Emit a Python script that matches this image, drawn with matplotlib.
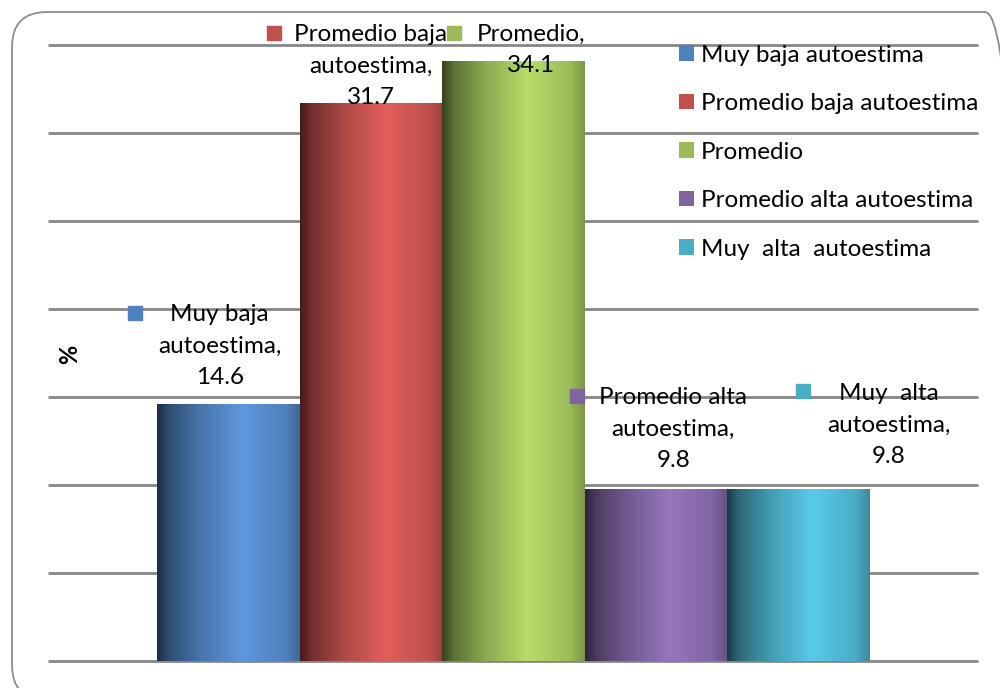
import matplotlib
matplotlib.use("Agg")
import matplotlib.pyplot as plt
import numpy as np
from matplotlib.colors import to_rgb
from matplotlib.patches import FancyBboxPatch, Patch
from matplotlib.transforms import IdentityTransform

plt.rcParams["font.family"] = ["Lato", "DejaVu Sans"]

categories = ["Muy baja autoestima", "Promedio baja autoestima", "Promedio",
              "Promedio alta autoestima", "Muy  alta  autoestima"]
label_names = ["Muy baja\nautoestima", "Promedio baja\nautoestima", "Promedio",
               "Promedio alta\nautoestima", "Muy  alta\nautoestima"]
values = [14.6, 31.7, 34.1, 9.8, 9.8]
colors = ["#4F81BD", "#C0504D", "#9BBB59", "#8064A2", "#4BACC6"]

fig = plt.figure(figsize=(10, 6.88), dpi=100)
ax = fig.add_axes([0.048, 27 / 688, 0.930, 616 / 688])

x = np.arange(len(values))
bars = ax.bar(x, values, width=1.0, color="none", edgecolor="none", zorder=3)

# cylinder-like horizontal shading
pos = [0.0, 0.08, 0.3, 0.6, 0.9, 1.0]
fac = [0.35, 0.6, 0.9, 1.18, 1.0, 0.8]
t = np.linspace(0, 1, 200)
for b, c in zip(bars, colors):
    base = np.array(to_rgb(c))
    f = np.interp(t, pos, fac)
    rgb = np.clip(base[None, :] * f[:, None], 0, 1)
    img = rgb[None, :, :]
    x0, w, h = b.get_x(), b.get_width(), b.get_height()
    im = ax.imshow(img, extent=[x0, x0 + w, 0, h], aspect="auto", zorder=3)
    im.set_clip_path(b)

ax.set_xlim(-1.264, 5.257)
ax.set_ylim(0, 35)
ax.hlines(np.arange(0, 36, 5), -1.264, 5.257, color="#868686", lw=2.0,
          zorder=1, clip_on=False)
for s in ax.spines.values():
    s.set_visible(False)
ax.set_xticks([])
ax.set_yticks([])
ax.text(0.0237, 0.497, "%", transform=ax.transAxes, rotation=90, fontsize=17,
        fontweight="bold", ha="center", va="center")

# data labels
fs = 17.5
lab_xy = [(-0.06, 17.9), (1.0, 33.8), (2.12, 34.74), (3.12, 13.18), (4.63, 13.41)]
mark_xy = [(-0.656, 19.77), (0.32, 35.68), (1.583, 35.68), (2.446, 15.06), (4.03, 15.34)]
for name, v, c, (lx, ly), (mx, my) in zip(label_names, values, colors, lab_xy, mark_xy):
    ax.text(lx, ly, f"{name},\n{v}", ha="center", va="center", fontsize=fs,
            linespacing=1.6, zorder=5, clip_on=False)
    ax.plot(mx, my, "s", color=c, ms=10, zorder=5, clip_on=False)

handles = [Patch(facecolor=c) for c in colors]
leg = ax.legend(handles, categories, loc="upper left", bbox_to_anchor=(0.655, 1.036),
                frameon=False, fontsize=fs, handlelength=0.6, handleheight=0.6,
                handletextpad=0.3, labelspacing=1.13)
leg.set_zorder(6)

frame = FancyBboxPatch((12, -12), 1008, 688,
                       boxstyle="round,pad=0,rounding_size=35",
                       transform=IdentityTransform(), facecolor="none",
                       edgecolor="#8c8c8c", lw=1.3)
fig.patches.append(frame)

fig.savefig("out.png", dpi=100)
